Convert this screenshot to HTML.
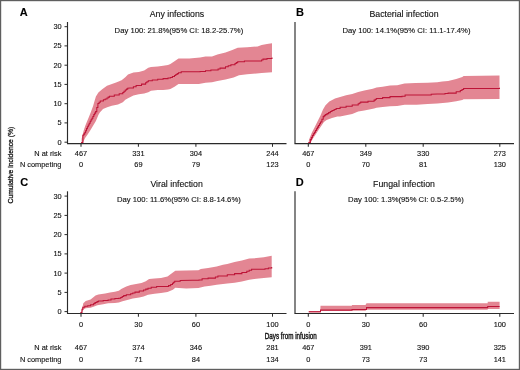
<!DOCTYPE html>
<html><head><meta charset="utf-8"><style>
html,body{margin:0;padding:0;background:#fff;}
body{width:520px;height:370px;overflow:hidden;position:relative;}
svg{position:absolute;left:0;top:0;display:block;will-change:transform;}
text{font-family:"Liberation Sans",sans-serif;fill:#111;stroke:#111;stroke-width:0.12px;}
.t{font-size:7.4px;}
.d{font-size:7.7px;}
.h{font-size:8.75px;}
.L{font-size:11px;font-weight:bold;fill:#000;}
.y{font-size:7.8px;stroke-width:0.3px;}
.x{font-size:9px;stroke-width:0.4px;}
</style></head><body>
<svg width="520" height="370" viewBox="0 0 520 370">
<rect x="0.6" y="0.6" width="518.8" height="368.8" fill="#fff" stroke="#5f5f5f" stroke-width="1.2"/>
<polygon points="81.6,139.0 83.4,131.6 85.1,126.3 86.9,121.8 88.7,117.4 90.8,112.2 93.1,106.1 94.1,102.6 95.9,96.4 98.4,92.5 102.2,89.3 107.0,85.8 111.9,84.0 116.8,82.2 121.6,80.3 125.3,77.3 128.0,74.6 133.4,72.6 138.8,71.9 144.2,70.5 148.3,67.8 151.0,66.9 157.7,66.5 163.1,65.8 168.0,65.1 170.4,63.9 174.5,61.2 178.5,58.5 189.3,58.5 200.1,57.4 205.5,56.5 212.0,56.4 217.4,54.6 225.5,52.6 232.3,49.9 237.7,47.8 247.1,47.2 257.6,46.5 261.6,44.9 267.0,43.9 272.0,43.2 272.0,72.2 261.6,73.0 256.6,73.5 247.1,74.2 239.0,75.3 233.6,77.6 225.5,79.6 217.4,81.0 212.0,82.3 205.5,82.8 198.8,83.9 178.5,84.1 174.5,86.8 170.4,88.9 168.0,89.5 163.1,90.1 157.7,89.9 151.0,90.8 148.3,92.2 144.2,93.5 138.8,94.2 133.4,95.5 128.0,98.2 125.3,99.8 122.8,102.2 118.0,104.4 111.8,105.8 107.2,107.2 103.0,109.0 101.0,111.2 100.0,112.2 98.5,114.7 95.9,120.9 93.2,125.4 90.5,129.9 87.8,134.3 85.1,137.9 82.9,142.6 81.6,143.0" fill="#e38693" /><polyline points="81.6,143.0 81.6,142.6 82.9,142.6 82.9,135.3 83.8,135.3 83.8,134.1 84.7,134.1 84.7,132.8 85.6,132.8 85.6,130.7 86.5,130.7 86.5,128.6 87.4,128.6 87.4,126.8 88.3,126.8 88.3,125.0 89.2,125.0 89.2,123.2 90.2,123.2 90.2,121.3 91.1,121.3 91.1,119.8 92.0,119.8 92.0,118.2 92.9,118.2 92.9,116.4 93.8,116.4 93.8,114.6 94.7,114.6 94.7,113.1 95.6,113.1 95.6,111.6 96.8,111.6 96.8,107.5 97.9,107.5 97.9,103.5 99.1,103.5 99.1,102.2 100.3,102.2 100.3,101.0 103.4,101.0 103.4,99.8 105.2,99.8 105.2,98.9 107.0,98.9 107.0,98.0 108.2,98.0 108.2,97.1 109.5,97.1 109.5,96.2 114.3,96.2 114.3,94.9 119.2,94.9 119.2,93.7 122.8,93.7 122.8,92.5 124.0,92.5 124.0,91.2 125.3,91.2 125.3,90.0 126.5,90.0 126.5,89.1 127.7,89.1 127.7,88.2 130.0,88.0 133.4,88.0 133.4,86.8 136.1,86.8 136.1,85.4 141.5,85.4 141.5,84.1 145.6,84.1 145.6,82.7 146.9,82.7 146.9,81.7 148.3,81.7 148.3,80.7 152.3,80.7 152.3,80.0 157.7,80.0 157.7,79.3 163.1,79.3 163.1,78.6 168.0,78.6 168.0,78.0 170.4,78.0 170.4,77.4 172.4,77.4 172.4,76.4 174.5,76.4 174.5,75.4 175.8,75.4 175.8,74.5 177.2,74.5 177.2,73.6 178.5,73.6 178.5,72.7 181.2,72.7 181.2,71.8 192.0,71.8 200.1,71.8 200.1,71.4 205.5,71.4 205.5,70.7 210.9,70.7 210.9,70.0 216.0,69.9 218.1,69.9 218.1,69.0 220.1,69.0 220.1,68.1 225.5,68.1 225.5,66.8 228.2,66.8 228.2,65.8 230.9,65.8 230.9,64.7 235.0,64.7 235.0,63.4 236.3,63.4 236.3,62.6 237.7,62.6 237.7,61.8 244.4,61.8 244.4,61.0 253.5,61.0 261.6,61.0 261.6,60.0 263.0,60.0 263.0,59.1 267.0,59.1 267.0,58.4 272.0,58.4 272.0,57.4" fill="none" stroke="#bd1437" stroke-width="1.05" stroke-linejoin="miter"/><polygon points="308.8,141.0 309.1,139.6 311.8,132.8 314.5,127.4 318.0,120.5 320.5,115.5 323.0,109.5 325.5,105.3 329.3,101.6 335.0,98.4 340.1,97.0 346.1,95.2 352.2,94.0 358.2,92.0 364.3,90.6 372.8,88.8 376.5,87.4 382.6,86.7 390.0,85.5 397.2,85.2 404.5,83.4 415.4,83.1 427.6,82.8 437.3,82.2 442.2,81.6 448.1,81.0 456.2,78.9 462.3,76.9 463.6,75.9 499.5,75.5 499.5,98.9 463.6,99.2 462.3,99.9 456.2,101.2 448.1,102.6 437.3,103.5 427.6,104.1 416.6,104.7 404.5,104.7 397.2,105.9 390.0,106.2 382.6,107.0 376.5,107.7 374.1,108.4 369.2,109.6 364.3,110.4 358.2,111.6 352.2,114.1 346.1,115.3 340.0,116.5 337.4,116.6 332.0,118.0 326.6,120.0 323.9,122.0 321.2,126.1 318.5,130.1 315.8,134.2 313.1,138.2 310.4,143.0 309.0,143.2" fill="#e38693" /><polyline points="308.5,143.2 308.8,143.2 308.8,142.6 310.4,142.6 310.4,139.6 311.4,139.6 311.4,137.6 312.4,137.6 312.4,135.5 313.4,135.5 313.4,133.8 314.5,133.8 314.5,132.2 315.5,132.2 315.5,130.5 316.5,130.5 316.5,128.8 317.5,128.8 317.5,127.1 318.5,127.1 318.5,125.4 319.5,125.4 319.5,123.7 320.5,123.7 320.5,122.0 321.9,122.0 321.9,119.3 323.2,119.3 323.2,116.6 324.2,116.6 324.2,115.6 325.3,115.6 325.3,114.6 327.0,114.6 327.0,113.6 328.6,113.6 328.6,112.6 330.3,112.6 330.3,111.5 332.0,111.5 332.0,110.5 334.1,110.5 334.1,109.5 336.1,109.5 336.1,108.5 340.1,108.5 340.1,107.2 346.1,107.2 346.1,106.2 352.2,106.2 352.2,104.9 358.2,104.9 358.2,103.7 359.4,103.7 359.4,102.9 360.7,102.9 360.7,102.1 368.0,102.1 368.0,101.3 374.1,101.3 374.1,100.1 375.3,100.1 375.3,99.3 376.5,99.3 376.5,98.5 382.6,98.5 382.6,97.6 390.0,97.6 390.0,96.6 402.0,96.6 402.0,96.2 405.1,96.2 405.1,94.9 425.1,94.9 431.2,94.9 431.2,94.3 437.3,94.0 445.0,94.0 445.0,93.5 448.1,93.5 448.1,93.1 456.2,93.1 456.2,91.8 460.3,91.8 460.3,90.4 462.0,90.4 462.0,89.4 463.6,89.4 463.6,88.4 499.5,88.4 499.5,87.7" fill="none" stroke="#bd1437" stroke-width="1.05" stroke-linejoin="miter"/><polygon points="81.5,311.0 82.3,308.2 83.3,303.3 85.7,300.9 90.6,299.5 95.5,295.6 98.4,294.4 105.2,293.6 110.0,292.6 114.9,291.7 118.8,290.7 121.7,288.8 126.3,286.6 130.7,285.0 136.1,283.9 141.5,282.9 145.8,281.2 149.1,279.1 154.5,278.5 161.0,278.0 167.5,276.4 172.9,272.6 175.3,270.8 186.2,270.6 198.4,270.2 200.8,269.0 208.1,268.1 216.7,266.6 223.0,264.8 227.3,263.9 234.6,262.0 241.9,260.6 249.2,258.6 256.5,258.1 263.8,257.2 271.7,255.7 271.7,277.2 263.8,278.1 256.5,278.8 249.2,279.7 241.9,281.5 234.6,282.7 227.3,283.6 223.0,283.9 216.7,284.8 210.6,285.7 204.5,286.6 198.4,288.0 186.2,288.4 175.3,287.8 172.9,289.7 167.5,292.1 161.0,293.1 154.5,293.7 148.0,294.8 143.6,296.4 139.3,297.5 132.8,298.5 126.3,300.3 122.5,301.3 118.8,302.4 114.9,303.0 108.1,303.3 103.2,304.3 97.4,305.3 93.5,306.8 90.6,307.7 85.7,308.2 83.8,309.2 81.8,312.1 80.9,313.0" fill="#e38693" /><polyline points="80.9,313.0 80.9,312.6 82.0,312.6 82.0,309.2 82.8,309.2 82.8,307.2 84.8,307.2 84.8,306.3 87.7,306.3 87.7,305.8 90.6,305.8 90.6,304.8 93.5,304.8 93.5,303.8 94.5,303.8 94.5,303.1 95.5,303.1 95.5,302.4 97.0,302.4 97.0,301.6 98.4,301.6 98.4,300.9 103.2,300.9 103.2,300.4 108.1,300.4 108.1,299.9 111.0,299.9 111.0,299.0 114.9,299.0 114.9,298.5 118.8,298.5 118.8,298.2 120.7,298.2 120.7,297.4 122.2,297.4 122.2,296.5 123.7,296.5 123.7,295.6 126.3,295.6 126.3,294.8 130.7,294.8 130.7,293.7 132.8,293.7 132.8,292.9 135.0,292.9 135.0,292.1 139.3,292.1 139.3,291.0 143.6,291.0 143.6,289.9 145.8,289.9 145.8,289.1 148.0,289.1 148.0,288.3 151.2,288.3 151.2,287.2 156.6,287.2 156.6,286.6 163.1,286.4 168.5,286.4 168.5,285.6 170.7,285.6 170.7,284.5 172.5,284.5 172.5,283.3 173.6,283.3 173.6,282.2 174.7,282.2 174.7,281.2 180.2,281.2 180.2,280.5 192.3,280.3 199.0,280.3 199.0,279.9 202.1,279.9 202.1,278.7 208.1,278.7 208.1,278.1 215.4,278.1 215.4,276.9 217.9,276.9 217.9,276.0 227.3,276.0 227.3,274.8 234.6,274.8 234.6,273.6 241.9,273.6 241.9,272.4 246.8,272.4 246.8,271.2 249.2,271.2 249.2,270.2 251.6,270.2 251.6,269.3 258.9,269.3 265.0,269.3 265.0,268.7 268.4,268.7 268.4,267.9 271.7,267.9 271.7,267.1" fill="none" stroke="#bd1437" stroke-width="1.05" stroke-linejoin="miter"/><polygon points="308.8,311.0 320.3,311.0 320.5,305.8 351.9,305.8 351.9,304.9 365.5,304.9 366.5,303.3 487.7,303.3 487.7,301.8 499.6,301.8 499.6,309.1 487.7,309.1 487.7,309.8 366.5,309.8 365.5,310.7 320.5,310.7 320.5,312.6 308.8,312.6" fill="#e38693" /><polyline points="308.8,311.8 320.5,311.8 320.5,310.1 352.0,310.1 352.0,309.4 365.5,309.4 366.5,309.4 366.5,307.6 487.7,307.6 487.7,306.4 499.6,306.4" fill="none" stroke="#bd1437" stroke-width="1.05" stroke-linejoin="miter"/><line x1="67.5" y1="22" x2="67.5" y2="143.6" stroke="#2a2a2a" stroke-width="1.15"/><line x1="67.0" y1="143.6" x2="286.5" y2="143.6" stroke="#2a2a2a" stroke-width="1.15"/><line x1="81.0" y1="143.6" x2="81.0" y2="146.79999999999998" stroke="#2a2a2a" stroke-width="1.05"/><line x1="138.4" y1="143.6" x2="138.4" y2="146.79999999999998" stroke="#2a2a2a" stroke-width="1.05"/><line x1="195.9" y1="143.6" x2="195.9" y2="146.79999999999998" stroke="#2a2a2a" stroke-width="1.05"/><line x1="272.5" y1="143.6" x2="272.5" y2="146.79999999999998" stroke="#2a2a2a" stroke-width="1.05"/><line x1="64.5" y1="142.2" x2="67.5" y2="142.2" stroke="#2a2a2a" stroke-width="1"/><text x="61.7" y="144.7" text-anchor="end" class="t">0</text><line x1="64.5" y1="122.9" x2="67.5" y2="122.9" stroke="#2a2a2a" stroke-width="1"/><text x="61.7" y="125.4" text-anchor="end" class="t">5</text><line x1="64.5" y1="103.7" x2="67.5" y2="103.7" stroke="#2a2a2a" stroke-width="1"/><text x="61.7" y="106.2" text-anchor="end" class="t">10</text><line x1="64.5" y1="84.4" x2="67.5" y2="84.4" stroke="#2a2a2a" stroke-width="1"/><text x="61.7" y="86.9" text-anchor="end" class="t">15</text><line x1="64.5" y1="65.2" x2="67.5" y2="65.2" stroke="#2a2a2a" stroke-width="1"/><text x="61.7" y="67.7" text-anchor="end" class="t">20</text><line x1="64.5" y1="45.9" x2="67.5" y2="45.9" stroke="#2a2a2a" stroke-width="1"/><text x="61.7" y="48.4" text-anchor="end" class="t">25</text><line x1="64.5" y1="26.7" x2="67.5" y2="26.7" stroke="#2a2a2a" stroke-width="1"/><text x="61.7" y="29.2" text-anchor="end" class="t">30</text><line x1="295.0" y1="22" x2="295.0" y2="143.6" stroke="#2a2a2a" stroke-width="1.15"/><line x1="294.5" y1="143.6" x2="514.0" y2="143.6" stroke="#2a2a2a" stroke-width="1.15"/><line x1="308.3" y1="143.6" x2="308.3" y2="146.79999999999998" stroke="#2a2a2a" stroke-width="1.05"/><line x1="365.8" y1="143.6" x2="365.8" y2="146.79999999999998" stroke="#2a2a2a" stroke-width="1.05"/><line x1="423.2" y1="143.6" x2="423.2" y2="146.79999999999998" stroke="#2a2a2a" stroke-width="1.05"/><line x1="499.8" y1="143.6" x2="499.8" y2="146.79999999999998" stroke="#2a2a2a" stroke-width="1.05"/><line x1="67.5" y1="191.3" x2="67.5" y2="313.5" stroke="#2a2a2a" stroke-width="1.15"/><line x1="67.0" y1="313.5" x2="286.5" y2="313.5" stroke="#2a2a2a" stroke-width="1.15"/><line x1="81.0" y1="313.5" x2="81.0" y2="316.7" stroke="#2a2a2a" stroke-width="1.05"/><text x="81.0" y="326.5" text-anchor="middle" class="t">0</text><line x1="138.4" y1="313.5" x2="138.4" y2="316.7" stroke="#2a2a2a" stroke-width="1.05"/><text x="138.4" y="326.5" text-anchor="middle" class="t">30</text><line x1="195.9" y1="313.5" x2="195.9" y2="316.7" stroke="#2a2a2a" stroke-width="1.05"/><text x="195.9" y="326.5" text-anchor="middle" class="t">60</text><line x1="272.5" y1="313.5" x2="272.5" y2="316.7" stroke="#2a2a2a" stroke-width="1.05"/><text x="272.5" y="326.5" text-anchor="middle" class="t">100</text><line x1="64.5" y1="311.6" x2="67.5" y2="311.6" stroke="#2a2a2a" stroke-width="1"/><text x="61.7" y="314.1" text-anchor="end" class="t">0</text><line x1="64.5" y1="292.4" x2="67.5" y2="292.4" stroke="#2a2a2a" stroke-width="1"/><text x="61.7" y="294.9" text-anchor="end" class="t">5</text><line x1="64.5" y1="273.1" x2="67.5" y2="273.1" stroke="#2a2a2a" stroke-width="1"/><text x="61.7" y="275.6" text-anchor="end" class="t">10</text><line x1="64.5" y1="253.9" x2="67.5" y2="253.9" stroke="#2a2a2a" stroke-width="1"/><text x="61.7" y="256.4" text-anchor="end" class="t">15</text><line x1="64.5" y1="234.6" x2="67.5" y2="234.6" stroke="#2a2a2a" stroke-width="1"/><text x="61.7" y="237.1" text-anchor="end" class="t">20</text><line x1="64.5" y1="215.4" x2="67.5" y2="215.4" stroke="#2a2a2a" stroke-width="1"/><text x="61.7" y="217.9" text-anchor="end" class="t">25</text><line x1="64.5" y1="196.1" x2="67.5" y2="196.1" stroke="#2a2a2a" stroke-width="1"/><text x="61.7" y="198.6" text-anchor="end" class="t">30</text><line x1="295.0" y1="191.3" x2="295.0" y2="313.5" stroke="#2a2a2a" stroke-width="1.15"/><line x1="294.5" y1="313.5" x2="514.0" y2="313.5" stroke="#2a2a2a" stroke-width="1.15"/><line x1="308.3" y1="313.5" x2="308.3" y2="316.7" stroke="#2a2a2a" stroke-width="1.05"/><text x="308.3" y="326.5" text-anchor="middle" class="t">0</text><line x1="365.8" y1="313.5" x2="365.8" y2="316.7" stroke="#2a2a2a" stroke-width="1.05"/><text x="365.8" y="326.5" text-anchor="middle" class="t">30</text><line x1="423.2" y1="313.5" x2="423.2" y2="316.7" stroke="#2a2a2a" stroke-width="1.05"/><text x="423.2" y="326.5" text-anchor="middle" class="t">60</text><line x1="499.8" y1="313.5" x2="499.8" y2="316.7" stroke="#2a2a2a" stroke-width="1.05"/><text x="499.8" y="326.5" text-anchor="middle" class="t">100</text><text x="19.8" y="15.9" class="L">A</text><text x="296" y="15.7" class="L">B</text><text x="20.2" y="185.9" class="L">C</text><text x="295.8" y="185.6" class="L">D</text><text x="177" y="17" text-anchor="middle" class="h">Any infections</text><text x="404" y="17" text-anchor="middle" class="h">Bacterial infection</text><text x="176.6" y="186.6" text-anchor="middle" class="h">Viral infection</text><text x="404" y="186.6" text-anchor="middle" class="h">Fungal infection</text><text x="178.9" y="33.3" text-anchor="middle" class="d">Day 100: 21.8%(95% CI: 18.2-25.7%)</text><text x="406.5" y="33.3" text-anchor="middle" class="d">Day 100: 14.1%(95% CI: 11.1-17.4%)</text><text x="178.9" y="202.3" text-anchor="middle" class="d">Day 100: 11.6%(95% CI: 8.8-14.6%)</text><text x="406" y="202.3" text-anchor="middle" class="d">Day 100: 1.3%(95% CI: 0.5-2.5%)</text><text x="61.4" y="156" text-anchor="end" class="t">N at risk</text><text x="61.4" y="167.2" text-anchor="end" class="t">N competing</text><text x="61.4" y="350.4" text-anchor="end" class="t">N at risk</text><text x="61.4" y="361.5" text-anchor="end" class="t">N competing</text><text x="81.0" y="156" text-anchor="middle" class="t">467</text><text x="81.0" y="167.3" text-anchor="middle" class="t">0</text><text x="138.4" y="156" text-anchor="middle" class="t">331</text><text x="138.4" y="167.3" text-anchor="middle" class="t">69</text><text x="195.9" y="156" text-anchor="middle" class="t">304</text><text x="195.9" y="167.3" text-anchor="middle" class="t">79</text><text x="272.5" y="156" text-anchor="middle" class="t">244</text><text x="272.5" y="167.3" text-anchor="middle" class="t">123</text><text x="308.3" y="156" text-anchor="middle" class="t">467</text><text x="308.3" y="167.3" text-anchor="middle" class="t">0</text><text x="365.8" y="156" text-anchor="middle" class="t">349</text><text x="365.8" y="167.3" text-anchor="middle" class="t">70</text><text x="423.2" y="156" text-anchor="middle" class="t">330</text><text x="423.2" y="167.3" text-anchor="middle" class="t">81</text><text x="499.8" y="156" text-anchor="middle" class="t">273</text><text x="499.8" y="167.3" text-anchor="middle" class="t">130</text><text x="81.0" y="350.4" text-anchor="middle" class="t">467</text><text x="81.0" y="361.5" text-anchor="middle" class="t">0</text><text x="138.4" y="350.4" text-anchor="middle" class="t">374</text><text x="138.4" y="361.5" text-anchor="middle" class="t">71</text><text x="195.9" y="350.4" text-anchor="middle" class="t">346</text><text x="195.9" y="361.5" text-anchor="middle" class="t">84</text><text x="272.5" y="350.4" text-anchor="middle" class="t">281</text><text x="272.5" y="361.5" text-anchor="middle" class="t">134</text><text x="308.3" y="350.4" text-anchor="middle" class="t">467</text><text x="308.3" y="361.5" text-anchor="middle" class="t">0</text><text x="365.8" y="350.4" text-anchor="middle" class="t">391</text><text x="365.8" y="361.5" text-anchor="middle" class="t">73</text><text x="423.2" y="350.4" text-anchor="middle" class="t">390</text><text x="423.2" y="361.5" text-anchor="middle" class="t">73</text><text x="499.8" y="350.4" text-anchor="middle" class="t">325</text><text x="499.8" y="361.5" text-anchor="middle" class="t">141</text><text transform="translate(13.4,203.5) rotate(-90) scale(0.87,1)" class="y">Cumulative incidence (%)</text><text transform="translate(264.8,338.9) scale(0.70,1)" class="x">Days from infusion</text>
</svg>
</body></html>
